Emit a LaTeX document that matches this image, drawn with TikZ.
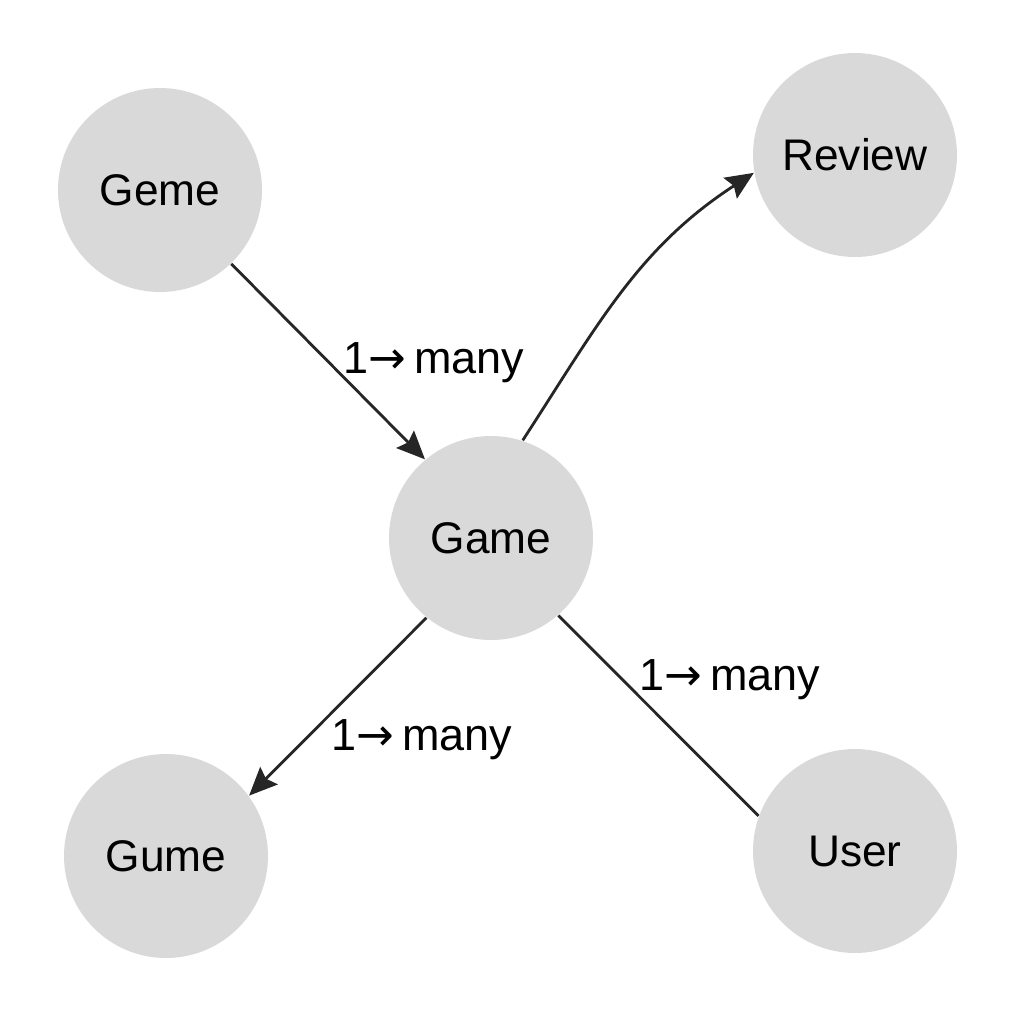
\documentclass[tikz,border=0pt]{standalone}
\usepackage{fontspec}
\setmainfont{Liberation Sans}
\newfontfamily\arrfont{DejaVu Sans}
\usetikzlibrary{arrows.meta}
\definecolor{disc}{HTML}{D9D9D9}
\definecolor{ink}{HTML}{262626}
\newcommand{\onemany}{1{\arrfont →}\,many}
\tikzset{ent/.style={circle,fill=disc,minimum size=2.04cm,inner sep=0pt,font=\fontsize{12.6}{14}\selectfont,text=black},arr/.style={-{Stealth[length=8pt,width=7pt,inset=1.2pt]},line width=0.8pt,draw=ink},lnk/.style={line width=0.8pt,draw=ink},lab/.style={font=\fontsize{12.8}{15}\selectfont,text=black}}
\begin{document}
\begin{tikzpicture}
\useasboundingbox (0,0) rectangle (10.24,-10.24);
\node[ent] (geme) at (1.60,-1.90) {Geme};
\node[ent] (review) at (8.55,-1.55) {Review};
\node[ent] (game) at (4.91,-5.38) {Game};
\node[ent] (gume) at (1.66,-8.56) {Gume};
\node[ent] (user) at (8.55,-8.51) {User};
\draw[arr] (geme.-46) -- (game.130);
\draw[arr] (game.72) to[out=57,in=213] (review.190);
\draw[arr] (game.-129) -- (gume.36);
\draw[lnk] (game.-49) -- (user.160);
\node[lab] (l1) at (4.34,-3.63) {\onemany};
\node[lab] (l2) at (4.22,-7.40) {\onemany};
\node[lab] (l3) at (7.30,-6.80) {\onemany};
\end{tikzpicture}
\end{document}
